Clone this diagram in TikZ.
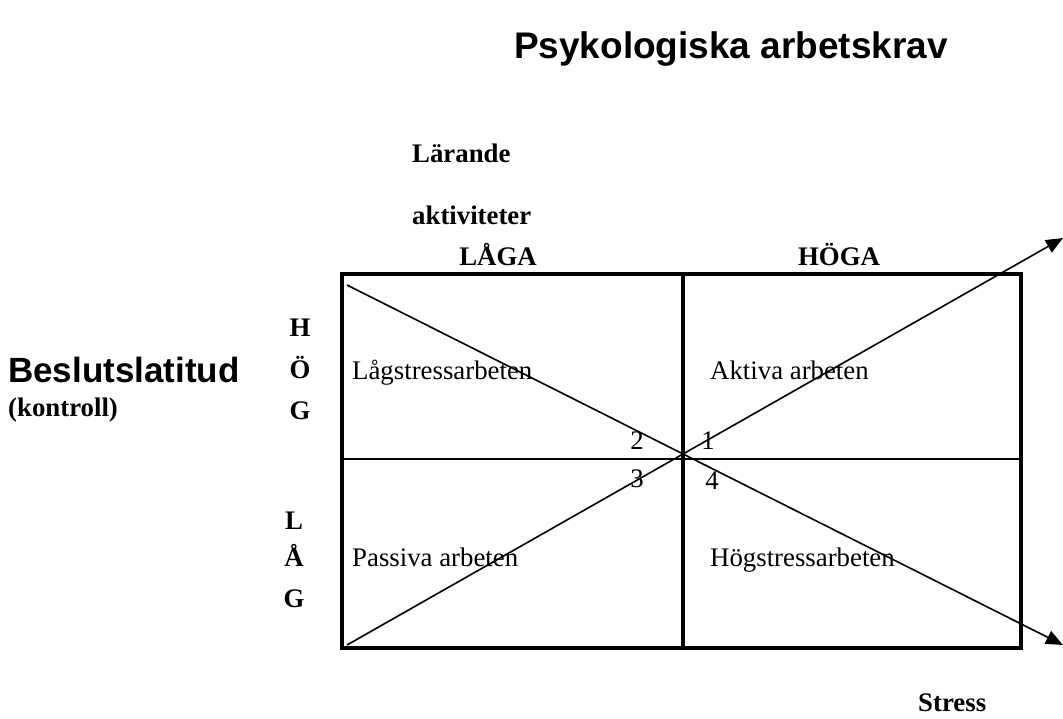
\documentclass[tikz,border=0pt]{standalone}
\usepackage{fontspec}
\setmainfont{Liberation Serif}
\newfontfamily\arialf{Liberation Sans}
\usetikzlibrary{arrows.meta}
\tikzset{
  lbl/.style={inner sep=0pt, anchor=base, font=\fontsize{26.8}{31}\selectfont},
  blbl/.style={lbl, font=\fontsize{26.8}{31}\selectfont\bfseries},
  slbl/.style={inner sep=0pt, anchor=base, font=\fontsize{35}{40}\selectfont\arialf\bfseries},
  thickbox/.style={line width=4pt},
  thinline/.style={line width=1.6pt},
  arr/.style={thinline, -{Triangle[length=17pt,width=14pt]}}
}
\begin{document}
\begin{tikzpicture}[x=1pt,y=-1pt]
\useasboundingbox (0,0) rectangle (1063,718);
% texts
\node[slbl, font=\fontsize{37}{42}\selectfont\arialf\bfseries] (title) at (731,58) {Psykologiska arbetskrav};
\node[blbl, anchor=base west] (lar) at (412,162) {Lärande};
\node[blbl, anchor=base west] (akt) at (412,224) {aktiviteter};
\node[blbl] (laga) at (498,265) {LÅGA};
\node[blbl] (hoga) at (839,265) {HÖGA};
\node[slbl, anchor=base west] (besl) at (8,382) {Beslutslatitud};
\node[blbl, anchor=base west] (kontr) at (8,416) {(kontroll)};
\node[blbl] (h1) at (300,336) {H};
\node[blbl] (h2) at (300,378) {Ö};
\node[blbl] (h3) at (300,419) {G};
\node[blbl] (l1) at (294,529) {L};
\node[blbl] (l2) at (294,566) {Å};
\node[blbl] (l3) at (294,607) {G};
% box
\coordinate (tl) at (342,274);
\coordinate (br) at (1021,648);
\coordinate (tm) at (682.5,274);
\coordinate (bm) at (682.5,648);
\coordinate (ml) at (342,459);
\coordinate (mr) at (1021,459);
\draw[thinline] (ml) -- (mr);
\draw[thickbox] (tm) -- (bm);
\draw[thickbox] (tl) rectangle (br);
% diagonals
\coordinate (d1s) at (347,285);
\coordinate (d1e) at (1063,645);
\coordinate (d2s) at (347,645);
\coordinate (d2e) at (1063,238);
\draw[arr] (d1s) -- (d1e);
\draw[arr] (d2s) -- (d2e);
% cell texts
\node[lbl, anchor=base west] (c1) at (352,379) {Lågstressarbeten};
\node[lbl, anchor=base west] (c2) at (710,379) {Aktiva arbeten};
\node[lbl, anchor=base west] (c3) at (352,566) {Passiva arbeten};
\node[lbl, anchor=base west] (c4) at (710,566) {Högstressarbeten};
\node[lbl] (n2) at (637,449) {2};
\node[lbl] (n1) at (708,449) {1};
\node[lbl] (n3) at (637,487) {3};
\node[lbl] (n4) at (712,489) {4};
\node[blbl, anchor=base west] (stress) at (918,711) {Stress};
\end{tikzpicture}
\end{document}
